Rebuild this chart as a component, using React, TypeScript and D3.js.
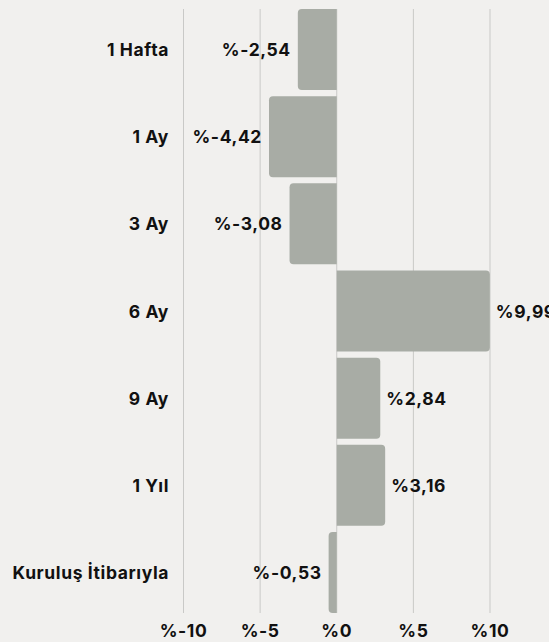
import * as d3 from "d3";

const categories = ["1 Hafta", "1 Ay", "3 Ay", "6 Ay", "9 Ay", "1 Yıl", "Kuruluş İtibarıyla"];
const values = [-2.54, -4.42, -3.08, 9.99, 2.84, 3.16, -0.53];
const ticks = [-10, -5, 0, 5, 10];

const WIDTH = 549;
const HEIGHT = 642;
const BAR_COLOR = "#a8aca5";
const BG = "#f1f0ee";
const FONT = "Inter, 'Noto Sans', sans-serif";
const FS = 17.5;
const LS = 0.6;

const fmt = (v: number) => "%" + String(v).replace(".", ",");
const fmt2 = (v: number) => "%" + v.toFixed(2).replace(".", ",");

// bar with rounded outer end
function barPath(x0: number, x1: number, y: number, h: number, r: number) {
  const rr = Math.min(r, Math.abs(x1 - x0), h / 2);
  if (x1 >= x0) {
    return `M${x0},${y}H${x1 - rr}Q${x1},${y} ${x1},${y + rr}V${y + h - rr}Q${x1},${y + h} ${x1 - rr},${y + h}H${x0}Z`;
  }
  return `M${x0},${y}H${x1 + rr}Q${x1},${y} ${x1},${y + rr}V${y + h - rr}Q${x1},${y + h} ${x1 + rr},${y + h}H${x0}Z`;
}

export default function App() {
  const x = d3.scaleLinear().domain([-10, 10]).range([183.5, 490]);
  const y = d3
    .scaleBand()
    .domain(categories)
    .range([9, 613])
    .paddingInner(0.07)
    .paddingOuter(0);

  const textProps = {
    dominantBaseline: "central" as const,
    fontFamily: FONT,
    fontWeight: 700,
    fontSize: FS,
    letterSpacing: LS,
    fill: "#111",
  };

  return (
    <div style={{ position: "absolute", left: 0, top: 0, width: WIDTH, height: HEIGHT, background: BG }}>
      <svg width={WIDTH} height={HEIGHT} style={{ display: "block" }}>
        <rect width={WIDTH} height={HEIGHT} fill={BG} />
        {ticks.map((t) => (
          <g key={t}>
            <line x1={x(t)} x2={x(t)} y1={9} y2={613} stroke="#c9c9c7" strokeWidth={1} />
            <text x={x(t)} y={630} textAnchor="middle" {...textProps}>
              {fmt(t)}
            </text>
          </g>
        ))}
        {categories.map((c, i) => {
          const v = values[i];
          const by = y(c)!;
          const bh = y.bandwidth();
          const cy = by + bh / 2;
          return (
            <g key={c}>
              <path d={barPath(x(0), x(v), by, bh, 4)} fill={BAR_COLOR} />
              <text x={169} y={cy} textAnchor="end" {...textProps}>
                {c}
              </text>
              <text
                x={v < 0 ? x(v) - 7 : x(v) + 6}
                y={cy}
                textAnchor={v < 0 ? "end" : "start"}
                {...textProps}
              >
                {fmt2(v)}
              </text>
            </g>
          );
        })}
      </svg>
    </div>
  );
}
